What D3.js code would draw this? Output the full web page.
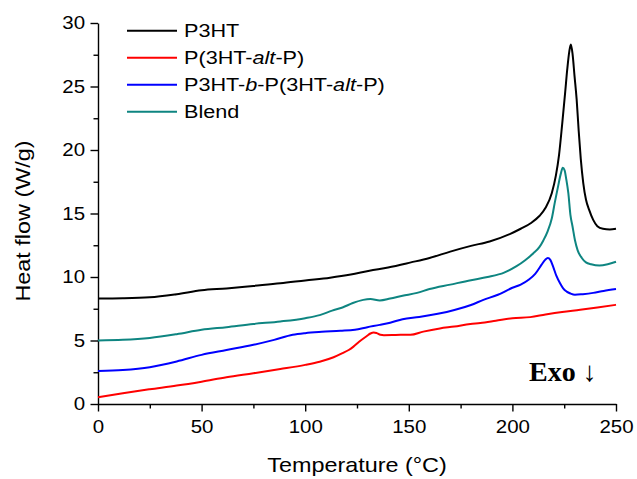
<!DOCTYPE html>
<html>
<head>
<meta charset="utf-8">
<script src="https://cdn.jsdelivr.net/npm/d3@7"></script>
<style>
  body { margin: 0; background: #fff; }
  svg { display: block; }
</style>
</head>
<body>
<svg id="chart"></svg>
<script>
// DSC traces
const p3htT = [0, 12, 25, 38, 50, 62, 75, 88, 100, 112, 122, 131, 140, 151, 160, 170, 180, 189, 199, 204, 209, 213, 216, 219, 221, 222.5, 224, 225.5, 226.5, 227.5, 228.2, 229, 230, 231, 232, 233, 234.2, 235.5, 237, 239, 241, 243.7, 247, 250];
const p3htY = [8.3, 8.32, 8.4, 8.65, 8.95, 9.1, 9.3, 9.5, 9.73, 9.95, 10.2, 10.5, 10.75, 11.15, 11.5, 12.0, 12.45, 12.8, 13.4, 13.8, 14.25, 14.8, 15.45, 16.6, 18.0, 19.6, 22.0, 24.6, 26.4, 27.8, 28.3, 27.6, 25.8, 24.0, 21.5, 19.3, 17.4, 16.1, 15.3, 14.5, 14.0, 13.8, 13.75, 13.8];

const altT = [0, 12, 25, 38, 50, 62, 75, 88, 100, 107, 113.7, 118, 121, 123.3, 126, 129.9, 131.5, 133.1, 134.5, 136.3, 138, 142, 146, 150.8, 157, 165, 172, 179.7, 184.5, 192, 200, 208.6, 216, 224, 232.7, 241, 250];
const altY = [0.53, 0.85, 1.16, 1.45, 1.76, 2.1, 2.42, 2.75, 3.08, 3.33, 3.68, 4.0, 4.25, 4.52, 4.9, 5.37, 5.55, 5.63, 5.58, 5.45, 5.42, 5.43, 5.45, 5.45, 5.7, 5.95, 6.1, 6.3, 6.37, 6.55, 6.75, 6.84, 7.05, 7.25, 7.42, 7.6, 7.81];

const blockT = [0, 12, 25, 38, 50, 62, 75, 85, 94, 100, 108, 117, 124, 130, 136, 141, 147, 155, 164, 172, 180, 186, 193, 200, 204, 208, 211, 214, 215.8, 217.1, 218.3, 219.7, 221.2, 223, 224.5, 226.2, 228, 230.2, 234, 239, 244, 250];
const blockY = [2.6, 2.68, 2.9, 3.35, 3.87, 4.25, 4.66, 5.05, 5.45, 5.58, 5.68, 5.76, 5.85, 6.05, 6.23, 6.4, 6.68, 6.85, 7.1, 7.4, 7.8, 8.2, 8.6, 9.15, 9.4, 9.8, 10.25, 10.95, 11.35, 11.5, 11.35, 10.8, 10.1, 9.5, 9.1, 8.85, 8.7, 8.6, 8.65, 8.75, 8.9, 9.05];

const blendT = [0, 12, 25, 38, 50, 62, 75, 88, 100, 107, 113, 118, 123, 128, 131.5, 136, 141, 147, 154, 160, 170, 180, 188, 196, 202, 206, 210, 213, 215, 217, 219, 220.5, 222, 223.3, 224.3, 225.2, 226, 227, 228, 229, 230.2, 231.5, 233.5, 235.5, 238, 242, 246, 250];
const blendY = [5.0, 5.05, 5.2, 5.5, 5.84, 6.05, 6.3, 6.5, 6.76, 7.0, 7.35, 7.6, 7.95, 8.2, 8.26, 8.15, 8.3, 8.52, 8.75, 9.05, 9.4, 9.75, 10.0, 10.35, 10.85, 11.3, 11.85, 12.35, 12.9, 13.6, 14.6, 15.9, 17.1, 18.1, 18.6, 18.4, 17.7, 16.6, 14.9, 14.0, 12.9, 12.1, 11.5, 11.15, 11.0, 10.9, 11.0, 11.2];

const seriesNames = ["P3HT", "P(3HT-alt-P)", "P3HT-b-P(3HT-alt-P)", "Blend"];
const seriesColors = ["#000000", "#ff0000", "#0000ff", "#0e8581"];
// legend text pieces: [text, italic]
const legendLabels = [
  [["P3HT", false]],
  [["P(3HT-", false], ["alt", true], ["-P)", false]],
  [["P3HT-", false], ["b", true], ["-P(3HT-", false], ["alt", true], ["-P)", false]],
  [["Blend", false]]
];

const xMajor = [0, 50, 100, 150, 200, 250];
const xMinor = [25, 75, 125, 175, 225];
const yMajor = [0, 5, 10, 15, 20, 25, 30];
const yMinor = [2.5, 7.5, 12.5, 17.5, 22.5, 27.5];

const series = [
  { t: p3htT, v: p3htY },
  { t: altT, v: altY },
  { t: blockT, v: blockY },
  { t: blendT, v: blendY }
];

const W = 637, H = 479;
const K = 1.17; // the source font is wider than Arial
const sans = "'Liberation Sans', Arial, sans-serif";

const svg = d3.select("#chart").attr("width", W).attr("height", H);

const x = d3.scaleLinear().domain([0, 250]).range([98, 616]);
const y = d3.scaleLinear().domain([0, 30]).range([404, 23]);

// axes
const gx = svg.append("g")
  .attr("transform", `translate(0,${y(0)})`)
  .call(d3.axisBottom(x).tickValues(xMajor).tickSize(7.5).tickSizeOuter(0).tickFormat(d3.format("d")));
gx.append("g")
  .call(d3.axisBottom(x).tickValues(xMinor).tickSize(4.5).tickFormat(""))
  .select(".domain").remove();

const gy = svg.append("g")
  .attr("transform", `translate(${x(0)},0)`)
  .call(d3.axisLeft(y).tickValues(yMajor).tickSize(7.5).tickSizeOuter(0).tickFormat(d3.format("d")));
gy.append("g")
  .call(d3.axisLeft(y).tickValues(yMinor).tickSize(4.5).tickFormat(""))
  .select(".domain").remove();

svg.selectAll(".domain, .tick line").attr("stroke", "#000").attr("stroke-width", 1.4);

gx.selectAll(".tick text")
  .attr("y", 29).attr("dy", null)
  .attr("transform", `scale(${K},1)`)
  .style("font-family", sans).style("font-size", "17.5px").attr("fill", "#000");
gy.selectAll(".tick text")
  .attr("x", -13 / K)
  .attr("transform", `scale(${K},1)`)
  .style("font-family", sans).style("font-size", "17.5px").attr("fill", "#000");

// curves
const line = d3.line()
  .x(d => x(d[0]))
  .y(d => y(d[1]))
  .curve(d3.curveMonotoneX);

series.forEach((s, i) => {
  svg.append("path")
    .datum(s.t.map((t, j) => [t, s.v[j]]))
    .attr("fill", "none")
    .attr("stroke", seriesColors[i])
    .attr("stroke-width", 2)
    .attr("stroke-linejoin", "round")
    .attr("d", line);
});

// legend
const legend = svg.append("g");
seriesNames.forEach((name, i) => {
  const ly = 30.7 + i * 27;
  legend.append("line")
    .attr("x1", 127).attr("x2", 177)
    .attr("y1", ly).attr("y2", ly)
    .attr("stroke", seriesColors[i]).attr("stroke-width", 2);
  const txt = legend.append("text")
    .attr("transform", `translate(184,${ly + 6.7}) scale(${K},1)`)
    .style("font-family", sans).style("font-size", "18.5px");
  legendLabels[i].forEach(p => {
    txt.append("tspan").text(p[0]).style("font-style", p[1] ? "italic" : "normal");
  });
});

// axis titles
svg.append("text")
  .attr("transform", `translate(357,471.5) scale(${K},1)`)
  .attr("text-anchor", "middle")
  .style("font-family", sans).style("font-size", "20px")
  .text("Temperature (°C)");

svg.append("text")
  .attr("transform", `translate(30,221) rotate(-90) scale(${K},1)`)
  .attr("text-anchor", "middle")
  .style("font-family", sans).style("font-size", "20px")
  .text("Heat flow (W/g)");

const exo = svg.append("text")
  .attr("x", 529).attr("y", 381)
  .style("font-family", "'Liberation Serif', 'Times New Roman', serif")
  .style("font-size", "28px");
exo.append("tspan").style("font-weight", "bold").text("Exo ");
exo.append("tspan").style("font-weight", "normal").text("↓");
</script>
</body>
</html>
